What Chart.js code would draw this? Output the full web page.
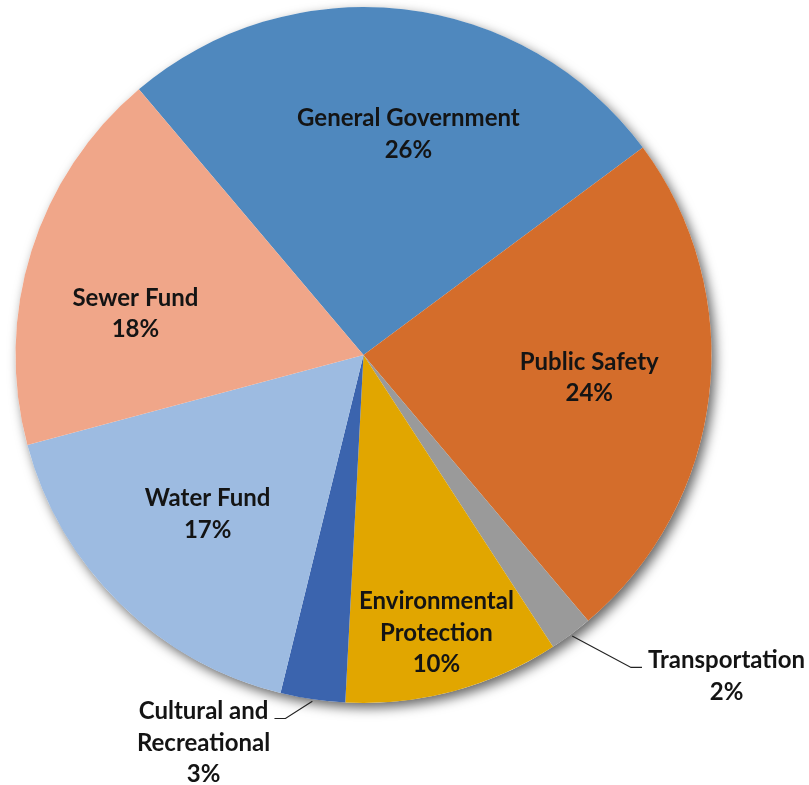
<!DOCTYPE html>
<html>
<head>
<meta charset="utf-8">
<script src="https://cdn.jsdelivr.net/npm/chart.js@4"></script>
<style>
  body { margin: 0; background: #fff; }
  #wrap { width: 809px; height: 785px; }
</style>
</head>
<body>
<div id="wrap"><canvas id="budgetPie" width="809" height="785"></canvas></div>
<script>
// spending by fund, percent of total
const categories = ['General Government', 'Public Safety', 'Transportation', 'Environmental Protection',
  'Cultural and Recreational', 'Water Fund', 'Sewer Fund'];
const shares = [26, 24, 2, 10, 3, 17, 18];
const sliceColors = ['#4f88be', '#d46d2b', '#9a9a9a', '#e1a600', '#3b64ae', '#9dbbe1', '#f0a689'];

// label text broken into lines
const labelLines = [['General Government'], ['Public Safety'], ['Transportation'], ['Environmental', 'Protection'],
  ['Cultural and', 'Recreational'], ['Water Fund'], ['Sewer Fund']];
// where each label sits: fraction of the radius and nudge from the slice middle (degrees)
const labelRadius = [0.647, 0.652, 1.393, 0.826, 1.206, 0.64, 0.666];
const labelNudge = [4.9, -0.8, -11.9, 0.3, 14, 0, -7.2];
// leader line side for labels outside the pie (0 = none)
const leaderSide = [0, 0, -1, 0, 1, 0, 0];

const FONT = 'bold 24px Lato, "Open Sans", sans-serif';
const LINE_H = 31.5;

// soft drop shadow under the whole disc
const pieShadow = {
  id: 'pieShadow',
  beforeDatasetsDraw(chart) {
    const arc = chart.getDatasetMeta(0).data[0];
    if (!arc) return;
    const ctx = chart.ctx;
    ctx.save();
    ctx.shadowColor = 'rgba(0,0,0,0.6)';
    ctx.shadowBlur = 12;
    ctx.shadowOffsetX = 4;
    ctx.shadowOffsetY = 5;
    ctx.fillStyle = '#fff';
    ctx.beginPath();
    ctx.arc(arc.x, arc.y, arc.outerRadius, 0, Math.PI * 2);
    ctx.fill();
    ctx.restore();
  }
};

const sliceLabels = {
  id: 'sliceLabels',
  afterDatasetsDraw(chart) {
    const ctx = chart.ctx;
    const arcs = chart.getDatasetMeta(0).data;
    ctx.save();
    ctx.font = FONT;
    ctx.fillStyle = '#141414';
    ctx.textAlign = 'center';
    ctx.textBaseline = 'middle';
    arcs.forEach((arc, i) => {
      const mid = (arc.startAngle + arc.endAngle) / 2;
      const a = mid + labelNudge[i] * Math.PI / 180;
      const r = arc.outerRadius * labelRadius[i];
      const cx = arc.x + Math.cos(a) * r;
      const cy = arc.y + Math.sin(a) * r;
      const lines = labelLines[i].concat([shares[i] + '%']);
      const top = cy - (lines.length - 1) * LINE_H / 2;
      lines.forEach((t, k) => ctx.fillText(t, cx, top + k * LINE_H));

      if (leaderSide[i]) {
        const half = ctx.measureText(lines[0]).width / 2;
        const sx = arc.x + Math.cos(mid) * (arc.outerRadius + 2);
        const sy = arc.y + Math.sin(mid) * (arc.outerRadius + 2);
        const ex = cx + leaderSide[i] * (half + 6);
        const ey = top + 7;
        ctx.strokeStyle = '#222';
        ctx.lineWidth = 1.2;
        ctx.beginPath();
        ctx.moveTo(sx, sy);
        ctx.lineTo(ex + leaderSide[i] * 11, ey);
        ctx.lineTo(ex, ey);
        ctx.stroke();
      }
    });
    ctx.restore();
  }
};

new Chart(document.getElementById('budgetPie'), {
  type: 'pie',
  data: {
    labels: categories,
    datasets: [{
      data: shares,
      backgroundColor: sliceColors,
      borderWidth: 0
    }]
  },
  options: {
    responsive: false,
    animation: false,
    rotation: -40.2,
    layout: { padding: { left: 15, right: 97, top: 7, bottom: 82 } },
    plugins: {
      legend: { display: false },
      tooltip: { enabled: false }
    }
  },
  plugins: [pieShadow, sliceLabels]
});
</script>
</body>
</html>
